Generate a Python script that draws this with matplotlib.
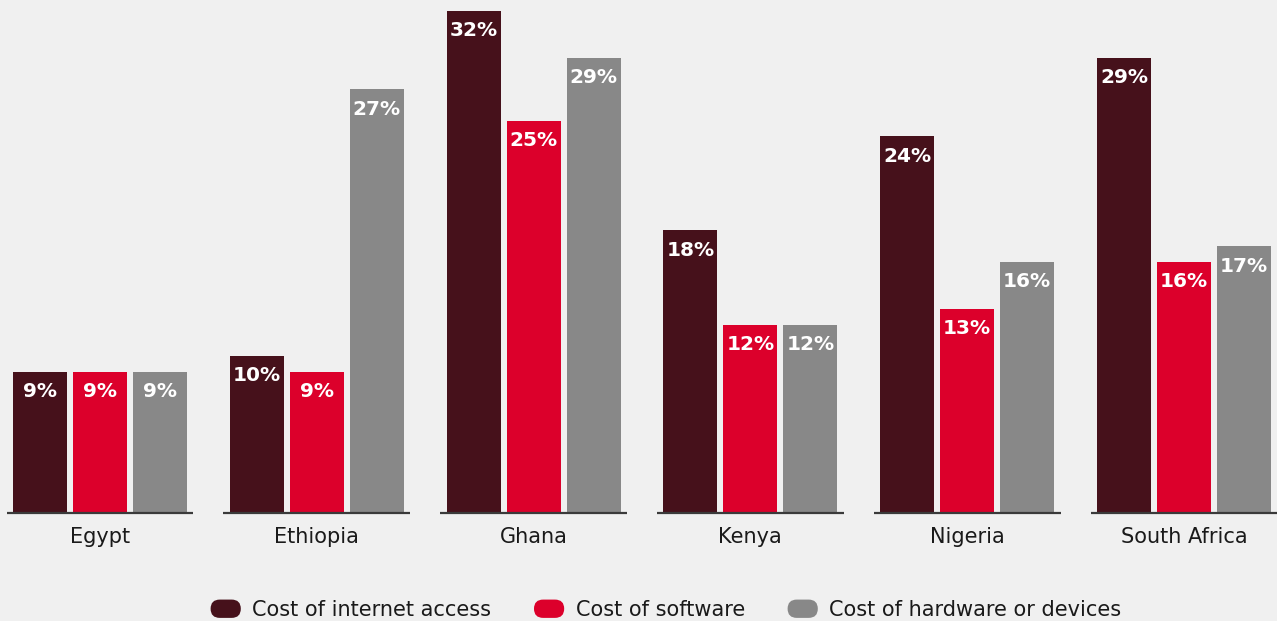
import matplotlib.pyplot as plt
from matplotlib.patches import FancyBboxPatch, Patch
from matplotlib.legend_handler import HandlerPatch
import numpy as np

countries = ['Egypt', 'Ethiopia', 'Ghana', 'Kenya', 'Nigeria', 'South Africa']
internet = [9, 10, 32, 18, 24, 29]
software = [9, 9, 25, 12, 13, 16]
hardware = [9, 27, 29, 12, 16, 17]
series_names = ['Cost of internet access', 'Cost of software', 'Cost of hardware or devices']
colors = ['#46111b', '#dc002b', '#888888']
bg = '#f0f0f0'

plt.rcParams['font.family'] = ['DejaVu Sans']

fig = plt.figure(figsize=(12.77, 6.21), dpi=100, facecolor=bg)
ax = fig.add_axes([0, 108 / 621, 1, 513 / 621])
ax.set_facecolor(bg)

x = np.arange(len(countries))
width = 0.249
step = 0.2765

for k, vals in enumerate([internet, software, hardware]):
    bars = ax.bar(x + (k - 1) * step, vals, width, color=colors[k], label=series_names[k])
    for b, v in zip(bars, vals):
        ax.annotate(f'{v}%', (b.get_x() + b.get_width() / 2, v), xytext=(0, -7.5),
                    textcoords='offset points', ha='center', va='top',
                    color='white', fontsize=14.5, fontweight='bold')

# short baseline under each country group
for xi in x:
    ax.plot([xi - 0.431, xi + 0.431], [0, 0], color='#3a3a3a', lw=1.6,
            solid_capstyle='butt', clip_on=False)
    ax.text(xi, -1.55, countries[xi], ha='center', va='center', fontsize=15, color='#1a1a1a')

ax.set_xlim(-0.461, 5.429)
ax.set_ylim(0, 32.68)
ax.axis('off')


class PillHandler(HandlerPatch):
    def create_artists(self, legend, orig_handle, xdescent, ydescent, width, height, fontsize, trans):
        h = height * 1.2
        p = FancyBboxPatch((-xdescent, -ydescent + (height - h) / 2), width, h,
                           boxstyle=f'round,pad=0,rounding_size={h / 2}',
                           facecolor=orig_handle.get_facecolor(), edgecolor='none',
                           transform=trans)
        return [p]


handles = [Patch(facecolor=c) for c in colors]
fig.legend(handles, series_names, loc='center', bbox_to_anchor=(666 / 1277, 1 - 610 / 621),
           ncol=3, frameon=False, fontsize=15, handlelength=1.45, handleheight=0.75,
           handletextpad=0.55, columnspacing=2.05, labelcolor='#1a1a1a',
           handler_map={Patch: PillHandler()})

fig.savefig('out.png', dpi=100, facecolor=bg)
